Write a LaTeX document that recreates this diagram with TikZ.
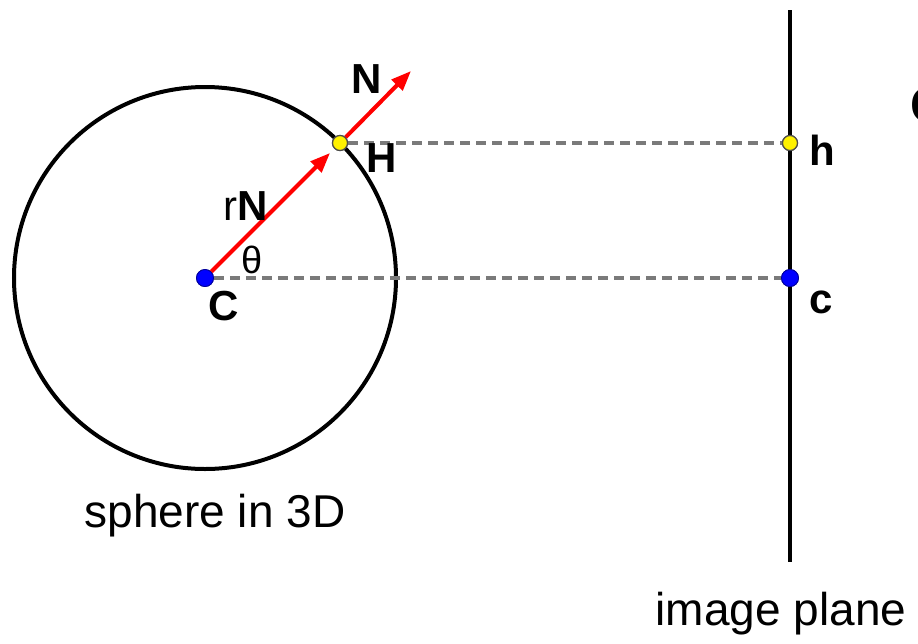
\documentclass[tikz,border=0pt]{standalone}
\usepackage{fontspec}
\setmainfont{Liberation Sans}
\usetikzlibrary{arrows.meta}
\begin{document}
\begin{tikzpicture}[x=0.5pt,y=-0.5pt,
  lbl/.style={font=\fontsize{21}{25}\selectfont\bfseries, inner sep=0, anchor=base},
  captext/.style={font=\fontsize{23}{28}\selectfont, inner sep=0, anchor=base},
  guide/.style={draw=black!52, line width=1.6pt, dash pattern=on 5pt off 3pt},
  vec/.style={draw=red, line width=2pt, -{Triangle[length=10pt,width=7.5pt]}},
  bdot/.style={circle, fill=blue, draw=blue!60!black, line width=0.4pt, minimum size=8.5pt, inner sep=0},
  ydot/.style={circle, fill=yellow, draw=black!70, line width=0.6pt, minimum size=7.5pt, inner sep=0},
  solidline/.style={draw=black, line width=2pt}]
\useasboundingbox (0,0) rectangle (918,644);
\clip (0,0) rectangle (918,644);
% points
\coordinate (Cc) at (205,278);
\coordinate (Hc) at (340,143);
\coordinate (Ntip) at (411,71);
\coordinate (ptop) at (790,10);
\coordinate (pbot) at (790,562);
% sphere and image plane
\draw[solidline] (Cc) circle[radius=191];
\draw[solidline] (ptop) -- (pbot);
% dots (nodes)
\node[bdot] (C) at (Cc) {};
\node[ydot] (H) at (Hc) {};
\node[ydot] (h) at (790,143) {};
\node[bdot] (c) at (790,278) {};
% dashed projections
\draw[guide] (C) -- (c);
\draw[guide] (H) -- (h);
% vectors
\draw[vec, shorten >=3pt] (C) -- (H);
\draw[vec] (H) -- (Ntip);
% redraw dots on top
\node[bdot] at (Cc) {};
\node[ydot] at (Hc) {};
\node[ydot] at (790,143) {};
\node[bdot] at (790,278) {};
% labels
\node[lbl] (lN) at (367,93) {N};
\node[lbl] (lH) at (382,172) {H};
\node[lbl] (lrN) at (246,220) {{\mdseries r}N};
\node[lbl, font=\fontsize{19}{22}\selectfont] (lth) at (252,273) {θ};
\node[lbl] (lC) at (224,320) {C};
\node[lbl] (lh) at (822,165) {h};
\node[lbl] (lc) at (821,313) {c};
\node[captext] (sph) at (215,527) {sphere in 3D};
\node[captext] (img) at (781,625) {image plane};
\node[captext, anchor=base west, font=\fontsize{25}{30}\selectfont\bfseries] (cut) at (910,122) {C};
\end{tikzpicture}
\end{document}
